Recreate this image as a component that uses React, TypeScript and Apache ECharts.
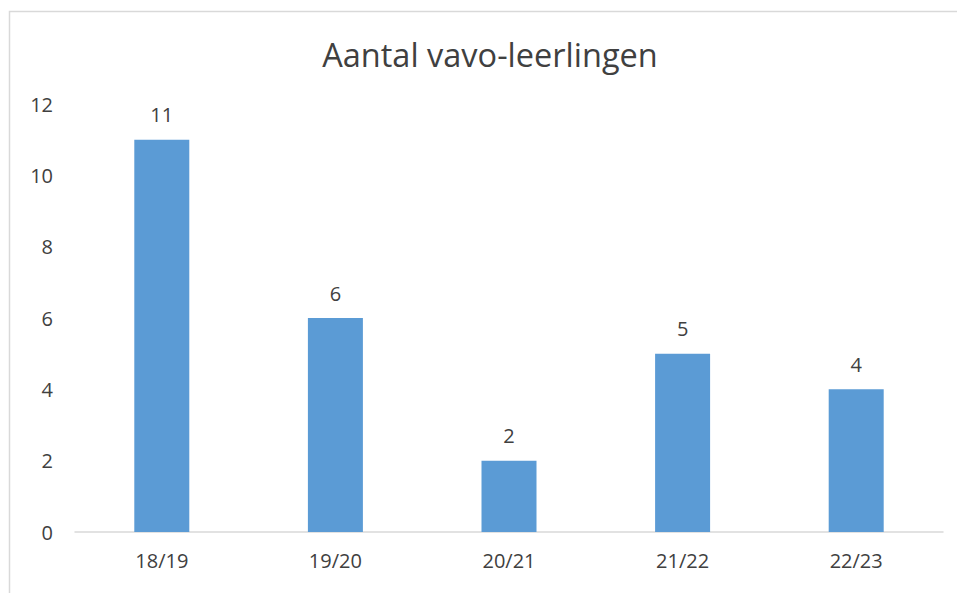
import React, { useEffect, useRef } from "react";
import * as echarts from "echarts";

const categories = ["18/19", "19/20", "20/21", "21/22", "22/23"];
const values = [11, 6, 2, 5, 4];
const titleText = "Aantal vavo-leerlingen";

export default function App() {
  const ref = useRef<HTMLDivElement>(null);
  useEffect(() => {
    const chart = echarts.init(ref.current!, null, { renderer: "svg" });
    const font = "Open Sans";
    chart.setOption({
      animation: false,
      backgroundColor: "#ffffff",
      title: {
        text: titleText,
        left: 485,
        textAlign: "center",
        top: 33,
        textStyle: { fontFamily: font, fontSize: 32.5, fontWeight: "normal", color: "#404040" },
      },
      graphic: [
        {
          type: "rect",
          shape: { x: 9.5, y: 11.5, width: 1000, height: 1000 },
          style: { fill: "none", stroke: "#d9d9d9", lineWidth: 1.5 },
          silent: true,
        },
      ],
      grid: { left: 75, right: 14, top: 104, bottom: 61 },
      xAxis: {
        type: "category",
        data: categories,
        axisLine: { lineStyle: { color: "#d9d9d9", width: 1.5 } },
        axisTick: { show: false },
        axisLabel: { fontFamily: font, fontSize: 20, color: "#404040", margin: 18 },
      },
      yAxis: {
        type: "value",
        min: 0,
        max: 12,
        interval: 2,
        axisLine: { show: false },
        axisTick: { show: false },
        splitLine: { show: false },
        axisLabel: { fontFamily: font, fontSize: 20, color: "#404040", margin: 22 },
      },
      series: [
        {
          type: "bar",
          data: values,
          barWidth: 55,
          itemStyle: { color: "#5b9bd5" },
          label: {
            show: true,
            position: "top",
            distance: 15,
            fontFamily: font,
            fontSize: 20,
            color: "#404040",
          },
        },
      ],
    });
    return () => chart.dispose();
  }, []);
  return (
    <div
      ref={ref}
      style={{ position: "fixed", left: 0, top: 0, width: 957, height: 593 }}
    />
  );
}
